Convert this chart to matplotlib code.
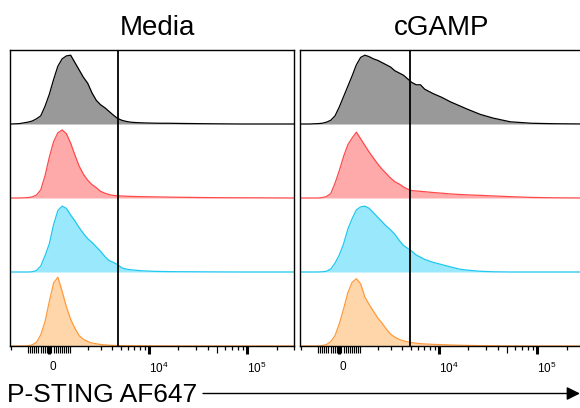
import numpy as np
import matplotlib.pyplot as plt
from matplotlib.patches import FancyArrowPatch

plt.rcParams["font.family"] = ["Liberation Sans", "DejaVu Sans"]
plt.rcParams["mathtext.fontset"] = "custom"
plt.rcParams["mathtext.rm"] = "Liberation Sans"

# display scale: channel = arcsinh(intensity / LINEAR_WIDTH)
LINEAR_WIDTH = 1950

CHANNEL = [-0.9, -0.7, -0.5, -0.4, -0.3, -0.2, -0.1, 0.0, 0.1, 0.2,
           0.3, 0.4, 0.5, 0.6, 0.7, 0.8, 0.9, 1.0, 1.1, 1.2,
           1.3, 1.4, 1.5, 1.6, 1.7, 1.8, 1.9, 2.0, 2.2, 2.4,
           2.6, 2.8, 3.0, 3.3, 3.6, 4.0, 4.5, 5.0, 5.72]

# normalised to mode, one value per CHANNEL point
MEDIA_GRAY = [0, 0.005, 0.025, 0.04, 0.07, 0.11, 0.24, 0.40, 0.60, 0.78,
              0.88, 0.92, 0.93, 0.83, 0.73, 0.63, 0.55, 0.42, 0.32, 0.26,
              0.22, 0.17, 0.12, 0.075, 0.05, 0.035, 0.025, 0.02, 0.015, 0.012,
              0.01, 0.01, 0.008, 0.006, 0.004, 0.002, 0, 0, 0]
MEDIA_RED = [0, 0, 0.005, 0.015, 0.04, 0.11, 0.30, 0.55, 0.76, 0.88,
             0.92, 0.87, 0.74, 0.58, 0.43, 0.32, 0.24, 0.18, 0.14, 0.09,
             0.065, 0.045, 0.035, 0.03, 0.027, 0.024, 0.022, 0.02, 0.018, 0.016,
             0.014, 0.012, 0.01, 0.008, 0.006, 0.004, 0.003, 0.002, 0]
MEDIA_CYAN = [0, 0, 0, 0.003, 0.02, 0.08, 0.22, 0.38, 0.64, 0.83,
              0.89, 0.86, 0.77, 0.69, 0.60, 0.52, 0.45, 0.40, 0.34, 0.28,
              0.21, 0.155, 0.13, 0.10, 0.055, 0.04, 0.03, 0.025, 0.015, 0.01,
              0.007, 0.005, 0.004, 0.003, 0.002, 0.001, 0, 0, 0]
MEDIA_ORANGE = [0, 0, 0.003, 0.015, 0.05, 0.15, 0.33, 0.60, 0.85, 0.93,
                0.74, 0.53, 0.36, 0.24, 0.14, 0.09, 0.06, 0.04, 0.03, 0.02,
                0.015, 0.01, 0.008, 0.006, 0.005, 0.004, 0.004, 0.003, 0.003, 0.002,
                0.002, 0.001, 0.001, 0, 0, 0, 0, 0, 0]

CGAMP_GRAY = [0, 0, 0.005, 0.01, 0.025, 0.05, 0.11, 0.23, 0.37, 0.51,
              0.65, 0.80, 0.90, 0.93, 0.91, 0.88, 0.86, 0.83, 0.80, 0.77,
              0.72, 0.69, 0.66, 0.61, 0.56, 0.53, 0.53, 0.47, 0.41, 0.36,
              0.30, 0.25, 0.20, 0.13, 0.08, 0.03, 0.01, 0.004, 0]
CGAMP_RED = [0, 0, 0, 0.005, 0.02, 0.06, 0.20, 0.37, 0.56, 0.72,
             0.81, 0.89, 0.80, 0.71, 0.62, 0.54, 0.46, 0.39, 0.33, 0.27,
             0.22, 0.19, 0.15, 0.12, 0.10, 0.095, 0.09, 0.085, 0.074, 0.065,
             0.055, 0.048, 0.042, 0.036, 0.028, 0.018, 0.008, 0.003, 0]
CGAMP_CYAN = [0, 0, 0, 0.003, 0.01, 0.04, 0.12, 0.23, 0.38, 0.58,
              0.72, 0.84, 0.88, 0.89, 0.86, 0.80, 0.74, 0.68, 0.62, 0.57,
              0.51, 0.43, 0.36, 0.32, 0.28, 0.23, 0.20, 0.17, 0.13, 0.10,
              0.07, 0.04, 0.025, 0.01, 0.003, 0, 0, 0, 0]
CGAMP_ORANGE = [0, 0, 0, 0.005, 0.02, 0.06, 0.14, 0.30, 0.50, 0.72,
                0.86, 0.91, 0.84, 0.66, 0.56, 0.47, 0.38, 0.31, 0.23, 0.16,
                0.12, 0.09, 0.07, 0.055, 0.045, 0.038, 0.032, 0.028, 0.022, 0.018,
                0.014, 0.01, 0.008, 0.005, 0.003, 0.001, 0, 0, 0]

PANEL_TITLES = ["Media", "cGAMP"]
GATES = [4650, 4900]

FILL_COLORS = ["#999999", "#FFAAAA", "#99E8FC", "#FFD5AA"]
EDGE_COLORS = ["#000000", "#FF4A4A", "#1EC8F0", "#FF9A3C"]

MAJOR_TICKS = [0, 1e4, 1e5]
MAJOR_LABELS = ["0", r"$10^4$", r"$10^5$"]
MID_TICKS = [-1000, -900, -800, -700, -600, -500, -400, -300, -200, -100,
             100, 200, 300, 400, 500, 600, 700, 800, 900, 1000, 5e4]
MINOR_TICKS = [-2000, 2000, 3000, 4000, 5000, 6000, 7000, 8000, 9000,
               2e4, 3e4, 4e4, 6e4, 7e4, 8e4, 9e4, 2e5, 3e5]


def to_channel(values):
    return np.arcsinh(np.asarray(values, dtype=float) / LINEAR_WIDTH)


def draw_panel(ax, curves, title, gate, title_x):
    for row, heights in enumerate(curves):
        base = len(curves) - 1 - row
        top = base + np.asarray(heights)
        ax.fill_between(CHANNEL, base, top, color=FILL_COLORS[row], lw=0)
        ax.plot(CHANNEL, top, color=EDGE_COLORS[row], lw=0.9)

    ax.axvline(to_channel(gate), color="black", lw=1.3)

    ax.set_xlim(-0.92, 5.72)
    ax.set_ylim(0, len(curves))
    ax.set_yticks([])

    ax.set_xticks(to_channel(MAJOR_TICKS))
    ax.set_xticklabels(MAJOR_LABELS, ha="left", fontsize=8.5)
    ax.set_xticks(to_channel(MINOR_TICKS), minor=True)
    ax.tick_params(axis="x", which="major", direction="out", length=6,
                   width=2.2, pad=5)
    ax.tick_params(axis="x", which="minor", direction="out", length=3,
                   width=0.9)

    mid = ax.secondary_xaxis("bottom")
    mid.set_xticks(to_channel(MID_TICKS))
    mid.tick_params(direction="out", length=5, width=0.85, labelbottom=False)
    mid.spines["bottom"].set_visible(False)

    for spine in ax.spines.values():
        spine.set_linewidth(1.0)

    ax.set_title(title, fontsize=20, pad=11, x=title_x)


def main():
    fig = plt.figure(figsize=(5.8, 4.08), dpi=100)

    ax_media = fig.add_axes([10 / 580, 62 / 408, 284 / 580, 296 / 408])
    ax_cgamp = fig.add_axes([300 / 580, 62 / 408, 284 / 580, 296 / 408])

    draw_panel(ax_media, [MEDIA_GRAY, MEDIA_RED, MEDIA_CYAN, MEDIA_ORANGE],
               PANEL_TITLES[0], GATES[0], 0.52)
    draw_panel(ax_cgamp, [CGAMP_GRAY, CGAMP_RED, CGAMP_CYAN, CGAMP_ORANGE],
               PANEL_TITLES[1], GATES[1], 0.5)

    fig.text(7 / 580, 6 / 408, "P-STING AF647", fontsize=19,
             ha="left", va="baseline")
    fig.add_artist(FancyArrowPatch(
        (203 / 580, 14.5 / 408), (580 / 580, 14.5 / 408),
        transform=fig.transFigure, arrowstyle="-|>", mutation_scale=20,
        lw=1.0, color="black", shrinkA=0, shrinkB=0))

    fig.savefig("out.png", dpi=100)
    plt.close(fig)


if __name__ == "__main__":
    main()
